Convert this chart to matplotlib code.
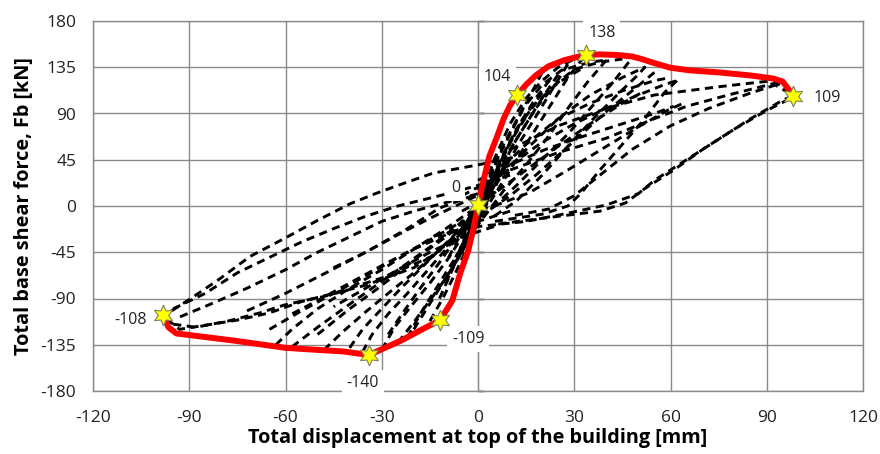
import matplotlib
matplotlib.use("Agg")
import matplotlib.pyplot as plt

# ---------------- data ----------------
x_ticks = [-120, -90, -60, -30, 0, 30, 60, 90, 120]
y_ticks = [-180, -135, -90, -45, 0, 45, 90, 135, 180]

# envelope (red)
env_x = [-98.1, -96.5, -94, -85, -76, -68, -60, -50, -42, -34, -29, -24, -18, -11.8, -8, -5.5, -3, -1.5,
         0, 1.5, 3.5, 6, 8, 10, 12.2, 15, 18, 22, 27, 33.6, 38, 43, 48, 51, 55, 60, 66, 75, 85, 92, 95, 98.3]
env_y = [-106, -118, -124, -127.5, -131, -134.5, -138, -140, -141.5, -145, -138, -131, -121, -111, -92, -65, -43, -23,
         0, 22, 48, 68, 85, 98, 108, 118, 127, 136, 142, 147, 147.5, 147, 145.5, 143, 139, 134.5, 132, 130, 127, 124, 121, 107]

# characteristic points (stars) and their labels
star_x = [0, 12.2, 33.6, 98.3, -98.1, -34.0, -11.8]
star_y = [1, 108, 147, 107, -106, -145, -111]
star_labels = ["0", "104", "138", "109", "-108", "-140", "-109"]

# hysteresis branches (black dashed)
h01_x = [-5, 10, 25, 40, 55, 65, 78, 92, 98]
h01_y = [10, 35, 52, 66, 85, 97, 108, 119, 108]
h02_x = [10, 25, 40, 55, 75, 92, 97]
h02_y = [55, 78, 95, 108, 116, 122, 112]
h03_x = [98, 95, 85, 75, 65, 55, 50, 40, 28, 15, 0, -15]
h03_y = [107, 103, 85, 65, 45, 25, 12, 1, -7, -15, -20, -30]
h04_x = [97, 90, 80, 70, 61, 52, 46, 38, 20, 5]
h04_y = [104, 93, 75, 55, 35, 17, 3, -5, -12, -18]
h05_x = [93, 85, 72, 60, 48, 38, 30, 22, 10]
h05_y = [118, 110, 95, 78, 55, 30, 10, -3, -10]
h06_x = [62, 58, 52, 45, 38, 32, 28, 20, 5]
h06_y = [122, 110, 85, 60, 35, 12, 0, -8, -15]
h07_x = [0, 10, 20, 30, 40, 50, 58, 62]
h07_y = [15, 40, 62, 80, 95, 108, 118, 122]
h08_x = [5, 15, 25, 35, 45, 55, 60]
h08_y = [30, 60, 85, 100, 112, 122, 125]
h09_x = [-5, 0, 5, 10, 15, 20, 25, 30]
h09_y = [-30, 0, 45, 80, 105, 122, 135, 143]
h10_x = [-3, 3, 8, 14, 20, 26, 35, 40]
h10_y = [-20, 25, 60, 95, 118, 132, 140, 142]
h11_x = [0, 6, 12, 18, 24, 30, 38, 45]
h11_y = [-10, 30, 65, 95, 118, 133, 140, 143]
h12_x = [33, 28, 22, 16, 10, 5, 0, -5]
h12_y = [145, 125, 95, 65, 35, 10, -15, -40]
h13_x = [40, 34, 28, 22, 15, 8, 2, -4]
h13_y = [142, 120, 95, 68, 40, 15, -10, -35]
h14_x = [20, 15, 10, 6, 2, -2, -6]
h14_y = [130, 100, 70, 45, 15, -15, -45]
h15_x = [47, 42, 35, 28, 20, 12, 5, -2]
h15_y = [140, 120, 95, 70, 45, 20, 0, -20]
h16_x = [5, 15, 25, 35, 45, 52, 50, 44, 36, 28, 20, 12, 5]
h16_y = [20, 55, 85, 108, 125, 135, 128, 110, 85, 58, 30, 5, -10]
h17_x = [5, 16, 28, 40, 50, 59, 64]
h17_y = [0, 13, 35, 58, 77, 93, 100]
h18_x = [0, 10, 21, 32, 45, 55, 61]
h18_y = [25, 40, 55, 67, 80, 90, 97]
h19_x = [15, 0, -14, -25, -32, -40, -50, -60, -71, -81, -90, -96]
h19_y = [50, 40, 32, 20, 12, 2, -14, -31, -49, -72, -91, -103]
h20_x = [10, 0, -12, -25, -35, -45, -55, -65, -75, -85, -95]
h20_y = [30, 20, 10, 0, -10, -22, -35, -50, -65, -85, -100]
h21_x = [0, -8, -20, -30, -40, -50, -60, -72, -83, -93]
h21_y = [12, 5, -5, -15, -30, -45, -62, -80, -95, -108]
h22_x = [-97, -93, -85, -75, -65, -55, -45, -30, -15, -5, 0]
h22_y = [-110, -120, -116, -111, -104, -93, -85, -70, -50, -25, -5]
h23_x = [-95, -88, -78, -68, -60, -48, -35, -20, -8, 0]
h23_y = [-115, -118, -112, -104, -96, -88, -77, -60, -35, -10]
h24_x = [-63, -58, -50, -40, -30, -20, -10, 0, 8]
h24_y = [-135, -120, -100, -80, -62, -42, -22, 0, 20]
h25_x = [-58, -50, -42, -33, -24, -15, -6, 2]
h25_y = [-137, -118, -100, -80, -60, -40, -18, 5]
h26_x = [-48, -42, -35, -28, -20, -12, -5, 3]
h26_y = [-140, -122, -103, -85, -65, -43, -22, 5]
h27_x = [-36, -33, -28, -22, -15, -8, -2, 4, 10]
h27_y = [-142, -125, -105, -85, -60, -35, -10, 20, 50]
h28_x = [-30, -26, -21, -15, -9, -4, 1, 6]
h28_y = [-140, -118, -98, -75, -50, -25, 5, 35]
h29_x = [-25, -20, -15, -10, -5, 0, 5]
h29_y = [-133, -113, -92, -70, -45, -15, 20]
h30_x = [-40, -36, -30, -24, -16, -8, 0]
h30_y = [-138, -120, -100, -80, -55, -30, -5]
h31_x = [-15, -11, -7, -3, 0, 4, 8]
h31_y = [-112, -90, -65, -38, -15, 10, 35]
h32_x = [-20, -15, -10, -6, -2, 2, 6]
h32_y = [-120, -95, -70, -50, -25, 0, 25]
h33_x = [-72, -60, -48, -35, -22, -12, 0]
h33_y = [-102, -85, -66, -45, -22, -2, 12]
h34_x = [10, 0, -10, -20, -30, -40, -50, -58]
h34_y = [-5, -15, -28, -42, -58, -75, -92, -105]
h35_x = [5, -5, -15, -25, -35, -45]
h35_y = [-20, -30, -45, -62, -80, -98]
h36_x = [-8, -3, 2, 7, 12, 18, 25, 32]
h36_y = [-60, -25, 10, 45, 75, 100, 120, 133]
h37_x = [-10, -5, 0, 4, 9, 14, 20]
h37_y = [-75, -40, -10, 20, 55, 85, 110]
h38_x = [25, 20, 15, 10, 5, 0, -5, -10]
h38_y = [128, 105, 80, 55, 30, 5, -25, -55]
h39_x = [55, 48, 40, 33, 26, 18, 10, 3]
h39_y = [130, 112, 92, 72, 52, 30, 10, -5]
h40_x = [-50, -40, -32, -25, -18, -10, -3, 3]
h40_y = [-125, -100, -82, -65, -48, -30, -12, 5]
h41_x = [-22, -18, -13, -8, -3, 1, 5, 9]
h41_y = [-128, -105, -80, -55, -30, -5, 20, 45]
h42_x = [-5, 5, 15, 25, 35, 45, 52]
h42_y = [-5, 12, 35, 58, 80, 100, 112]
h43_x = [-45, -35, -25, -15, -5, 5]
h43_y = [-60, -45, -28, -12, 3, 18]
h44_x = [-65, -55, -45, -35, -25, -15, -5]
h44_y = [-120, -102, -85, -68, -50, -33, -15]
h45_x = [-6, -2, 3, 8, 13, 18, 23]
h45_y = [-50, -20, 15, 50, 80, 105, 125]
h46_x = [28, 24, 19, 13, 8, 3, -2, -7]
h46_y = [138, 118, 92, 62, 35, 10, -20, -50]
h47_x = [-28, -23, -18, -12, -7, -2, 3]
h47_y = [-125, -102, -80, -55, -32, -8, 18]
h48_x = [-12, -8, -4, 0, 5, 10, 16]
h48_y = [-90, -62, -35, -5, 30, 62, 92]

branches = [
    (h01_x, h01_y), (h02_x, h02_y), (h03_x, h03_y), (h04_x, h04_y), (h05_x, h05_y),
    (h06_x, h06_y), (h07_x, h07_y), (h08_x, h08_y), (h09_x, h09_y), (h10_x, h10_y),
    (h11_x, h11_y), (h12_x, h12_y), (h13_x, h13_y), (h14_x, h14_y), (h15_x, h15_y),
    (h16_x, h16_y), (h17_x, h17_y), (h18_x, h18_y), (h19_x, h19_y), (h20_x, h20_y),
    (h21_x, h21_y), (h22_x, h22_y), (h23_x, h23_y), (h24_x, h24_y), (h25_x, h25_y),
    (h26_x, h26_y), (h27_x, h27_y), (h28_x, h28_y), (h29_x, h29_y), (h30_x, h30_y),
    (h31_x, h31_y), (h32_x, h32_y), (h33_x, h33_y), (h34_x, h34_y), (h35_x, h35_y),
    (h36_x, h36_y), (h37_x, h37_y), (h38_x, h38_y), (h39_x, h39_y), (h40_x, h40_y),
    (h41_x, h41_y), (h42_x, h42_y), (h43_x, h43_y), (h44_x, h44_y), (h45_x, h45_y),
    (h46_x, h46_y), (h47_x, h47_y), (h48_x, h48_y),
]

# label offsets (pixels) relative to each star
label_dx = [-22, -20, 16, 34, -33, -6, 28]
label_dy = [17, 18, 22, -2, -5, -28, -19]

# ---------------- plot ----------------
plt.rcParams['font.family'] = ['Open Sans', 'DejaVu Sans']
plt.rcParams['axes.unicode_minus'] = False
fig = plt.figure(figsize=(8.8, 4.54), dpi=100)
ax = fig.add_axes([93 / 880, 1 - 391 / 454, 770 / 880, 370 / 454])

ax.set_xlim(-120, 120)
ax.set_ylim(-180, 180)
ax.set_xticks(x_ticks)
ax.set_yticks(y_ticks)
ax.tick_params(axis='both', length=0, labelsize=12.5, colors='#222222')
ax.tick_params(axis='x', pad=14)
ax.tick_params(axis='y', pad=12)
ax.grid(True, color='#8a8a8a', linewidth=1.0)
ax.set_axisbelow(True)
for s in ax.spines.values():
    s.set_color('#8a8a8a')
    s.set_linewidth(1.0)

# vertical axis line at x = 0 with small tick marks
sec = ax.secondary_yaxis(0.5)
sec.set_yticks(y_ticks)
sec.tick_params(axis='y', direction='out', length=4, width=1, color='black', labelleft=False, labelright=False)
sec.spines['left'].set_color('black')
sec.spines['left'].set_linewidth(1.2)

for bx, by in branches:
    ax.plot(bx, by, color='black', linewidth=2.1, linestyle=(0, (2.8, 1.9)), zorder=3)

ax.plot(env_x, env_y, color='#ff0000', linewidth=4.3, solid_capstyle='round', solid_joinstyle='round', zorder=6)

for sx, sy, lab, dx, dy in zip(star_x, star_y, star_labels, label_dx, label_dy):
    ax.annotate(lab, (sx, sy), xytext=(dx, dy), textcoords='offset pixels', ha='center', va='center',
                fontsize=11.5, color='#222222', zorder=5,
                bbox=dict(boxstyle='square,pad=0.3', facecolor='white', edgecolor='none'))

ax.plot(star_x, star_y, linestyle='none', marker=(6, 1, 0), markersize=15, markerfacecolor='#ffff00',
        markeredgecolor='#808060', markeredgewidth=0.8, zorder=7)

ax.set_xlabel('Total displacement at top of the building [mm]', fontsize=14.3, fontweight='bold', labelpad=1)
ax.set_ylabel('Total base shear force, Fb [kN]', fontsize=14.3, fontweight='bold', labelpad=5)

fig.savefig('out.png', dpi=100)
